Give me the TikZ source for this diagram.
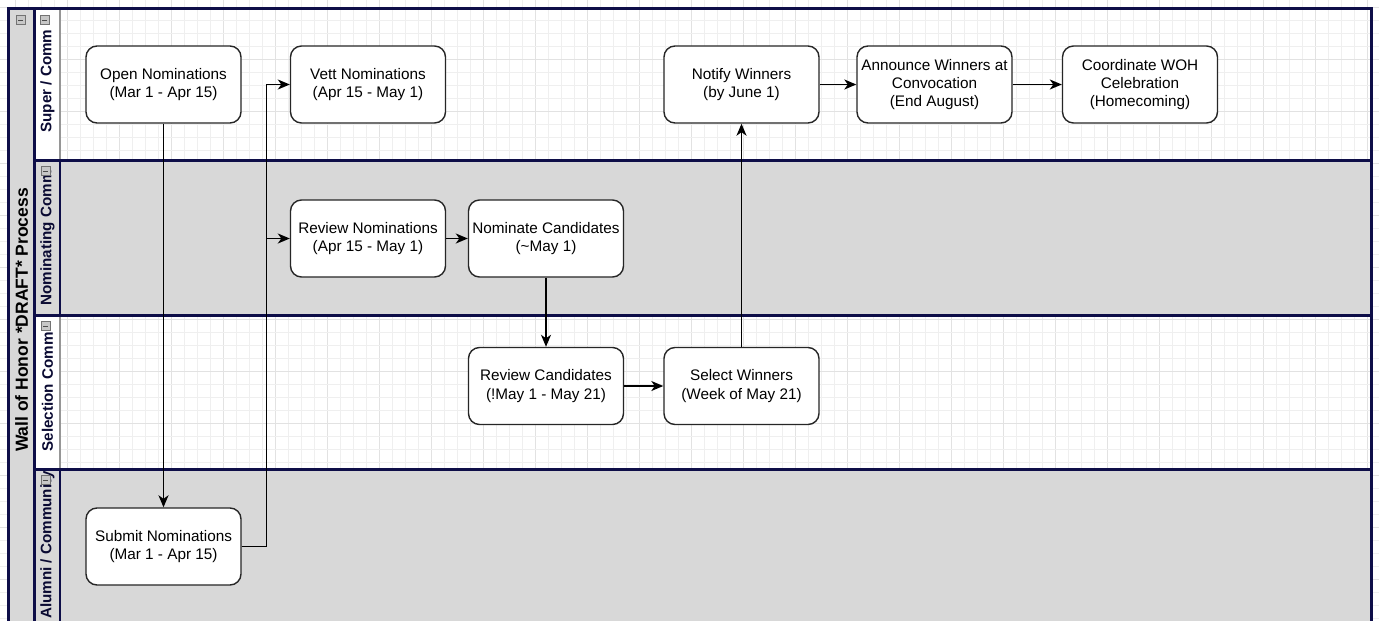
\documentclass[tikz,border=0pt]{standalone}
\usepackage{fontspec}
\setmainfont{Liberation Sans}
\usetikzlibrary{arrows.meta}
\definecolor{navy}{RGB}{14,14,72}
\definecolor{lanegrey}{RGB}{216,216,216}
\definecolor{gridminor}{RGB}{239,239,239}
\definecolor{gridmajor}{RGB}{226,226,226}
\definecolor{sepgrey}{RGB}{150,150,150}
\begin{document}
\begin{tikzpicture}[x=1pt,y=-1pt,
  box/.style={draw=black!85, line width=1.4pt, fill=white, rounded corners=11pt,
    minimum width=155pt, minimum height=77pt, align=center,
    font=\fontsize{15.3}{18.3}\selectfont, inner sep=0pt},
  flow/.style={draw=black, line width=1.5pt, -{Stealth[length=12pt,width=10pt,inset=3.5pt]}},
  lanelabel/.style={rotate=90, font=\bfseries\fontsize{15.2}{18}\selectfont, text=navy!70!black, inner sep=0pt},
  pooltitle/.style={rotate=90, font=\bfseries\fontsize{17.5}{20}\selectfont, text=black, inner sep=0pt},
  navyline/.style={draw=navy, line width=3pt},
  collapse/.style={draw=black!55, fill=black!22, line width=0.7pt, minimum size=9pt, inner sep=0pt},
]
\useasboundingbox (0,0) rectangle (1379,621);
\clip (0,0) rectangle (1379,621);
\fill[white] (0,0) rectangle (1379,621);
% grid
\foreach \k in {0,...,105} {
  \pgfmathsetmacro{\xx}{15+13*\k}
  \pgfmathtruncatemacro{\mm}{mod(\k,4)}
  \ifnum\mm=0 \draw[gridmajor, line width=0.6pt] (\xx,0) -- (\xx,621);
  \else \draw[gridminor, line width=0.6pt] (\xx,0) -- (\xx,621); \fi
}
\foreach \k in {0,...,47} {
  \pgfmathsetmacro{\yy}{7+13*\k}
  \pgfmathtruncatemacro{\mm}{mod(\k,4)}
  \ifnum\mm=0 \draw[gridmajor, line width=0.6pt] (0,\yy) -- (1379,\yy);
  \else \draw[gridminor, line width=0.6pt] (0,\yy) -- (1379,\yy); \fi
}
% grey areas
\fill[lanegrey] (8,8) rectangle (34,632);
\fill[lanegrey] (34,160) rectangle (1371,315);
\fill[lanegrey] (34,469) rectangle (1371,632);
\fill[white] (34,8) rectangle (60,160);
\fill[white] (34,315) rectangle (60,469);
% lane header separators
\draw[sepgrey, line width=1.2pt] (60,8) -- (60,160);
\draw[sepgrey, line width=1.2pt] (60,315) -- (60,469);
\draw[navy, line width=2.4pt] (60,160) -- (60,315);
\draw[navy, line width=2.4pt] (60,469) -- (60,632);
% navy borders
\draw[navyline] (34,8) -- (34,632);
\draw[navyline] (34,160) -- (1371,160);
\draw[navyline] (34,315) -- (1371,315);
\draw[navyline] (34,469) -- (1371,469);
\draw[navyline] (8,8) rectangle (1371,632);
% labels
\node[pooltitle] (title) at (21.5,320) {Wall of Honor *DRAFT* Process};
\node[lanelabel] (l1) at (47.5,81) {Super / Comm};
\node[lanelabel] (l2) at (47.5,238) {Nominating Comm};
\node[lanelabel] (l3) at (47.5,392) {Selection Comm};
\node[lanelabel] (l4) at (47.5,545) {Alumni / Community};
% collapse icons
\foreach \n/\cx/\cy in {ip/20.5/20, i1/44.5/20, i2/45.5/171, i3/45.5/326, i4/45.5/480} {
  \node[collapse] (\n) at (\cx,\cy) {};
  \draw[black!70, line width=0.9pt] ([xshift=-2.5pt]\n.center) -- ([xshift=2.5pt]\n.center);
}
% process boxes
\node[box] (open) at (163.5,84.5) {Open Nominations\\(Mar 1 - Apr 15)};
\node[box] (vett) at (368,84.5) {Vett Nominations\\(Apr 15 - May 1)};
\node[box] (notify) at (741.5,84.5) {Notify Winners\\(by June 1)};
\node[box] (announce) at (934.5,84.5) {Announce Winners at\\Convocation\\(End August)};
\node[box] (coord) at (1140,84.5) {Coordinate WOH\\Celebration\\(Homecoming)};
\node[box] (revnom) at (368,238.5) {Review Nominations\\(Apr 15 - May 1)};
\node[box] (nomcand) at (546,238.5) {Nominate Candidates\\(\textasciitilde May 1)};
\node[box] (revcand) at (546,386) {Review Candidates\\(!May 1 - May 21)};
\node[box] (select) at (741.5,386) {Select Winners\\(Week of May 21)};
\node[box] (submit) at (163.5,546.5) {Submit Nominations\\(Mar 1 - Apr 15)};
% connectors
\draw[flow] (open.south) -- (submit.north);
\draw[flow] (submit.east) -- ++(25,0) |- (vett.west);
\draw[flow] (submit.east) -- ++(25,0) |- (revnom.west);
\draw[flow] (revnom.east) -- (nomcand.west);
\draw[flow] (nomcand.south) -- (revcand.north);
\draw[flow] (revcand.east) -- (select.west);
\draw[flow] (select.north) -- (notify.south);
\draw[flow] (notify.east) -- (announce.west);
\draw[flow] (announce.east) -- (coord.west);
\end{tikzpicture}
\end{document}
